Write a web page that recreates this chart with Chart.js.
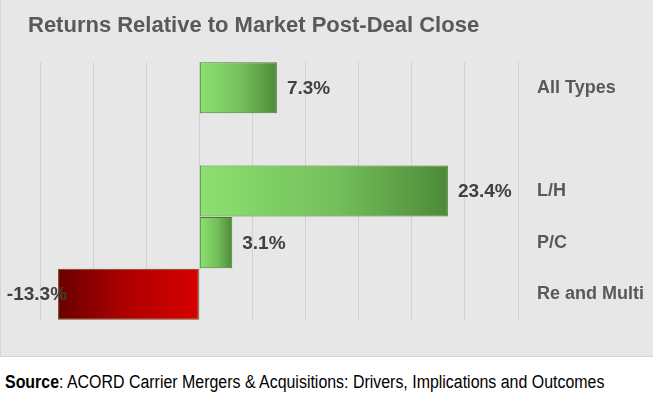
<!DOCTYPE html>
<html>
<head>
<meta charset="utf-8">
<script src="https://cdn.jsdelivr.net/npm/chart.js@4"></script>
<style>
  html, body { margin: 0; padding: 0; background: #fff; }
  #wrap { position: relative; width: 653px; height: 357px; background: #e7e7e7; border-bottom: 1px solid #d4d4d4; border-left: 1px solid #d4d4d4; box-sizing: border-box; }
  #title { position: absolute; left: 27px; top: 12px; font: bold 22px "Liberation Sans", Arial, sans-serif; color: #595959; white-space: nowrap; transform-origin: 0 0; transform: scaleX(1.0); }
  #chart { position: absolute; left: 0; top: 0; }
  #source { position: absolute; left: 5px; top: 372px; font: 18px "Liberation Sans", Arial, sans-serif; color: #000; white-space: nowrap; transform-origin: 0 0; transform: scaleX(0.885); }
</style>
</head>
<body>
<div id="wrap">
  <canvas id="chart" width="652" height="356"></canvas>
  <div id="title">Returns Relative to Market Post-Deal Close</div>
</div>
<div id="source"><b>Source</b>: ACORD Carrier Mergers &amp; Acquisitions: Drivers, Implications and Outcomes</div>
<script>
var categories = ['All Types', '', 'L/H', 'P/C', 'Re and Multi'];
var returns = [7.3, null, 23.4, 3.1, -13.3];
var labels = ['7.3%', '', '23.4%', '3.1%', '-13.3%'];

function barGradient(ctx) {
    var chart = ctx.chart;
    var v = ctx.raw;
    if (v === null || v === undefined || !chart.chartArea) return '#888';
    var xs = chart.scales.x;
    var x0 = xs.getPixelForValue(0), x1 = xs.getPixelForValue(v);
    var g = chart.ctx.createLinearGradient(Math.min(x0, x1), 0, Math.max(x0, x1), 0);
    if (v >= 0) {
        g.addColorStop(0, '#8ce170');
        g.addColorStop(0.55, '#74bf5b');
        g.addColorStop(1, '#4d8a38');
    } else {
        g.addColorStop(0, '#6a0000');
        g.addColorStop(0.5, '#b00000');
        g.addColorStop(1, '#d60000');
    }
    return g;
}

// value labels next to bar ends
var valueLabels = {
    id: 'valueLabels',
    afterDatasetsDraw: function(chart) {
        var c = chart.ctx;
        var meta = chart.getDatasetMeta(0);
        c.save();
        c.font = 'bold 19px "Liberation Sans", Arial, sans-serif';
        c.fillStyle = '#404040';
        c.textBaseline = 'middle';
        meta.data.forEach(function(bar, i) {
            if (returns[i] === null) return;
            if (returns[i] >= 0) {
                c.textAlign = 'left';
                c.fillText(labels[i], bar.x + 10, bar.y + 1);
            } else {
                c.textAlign = 'right';
                c.fillText(labels[i], bar.x + 9, bar.y + 1);
            }
        });
        c.restore();
    }
};

new Chart(document.getElementById('chart'), {
    type: 'bar',
    data: {
        labels: categories,
        datasets: [{
            data: returns,
            backgroundColor: barGradient,
            borderColor: function(ctx) { return ctx.raw < 0 ? '#6b4a1c' : '#4a7f33'; },
            borderWidth: 1,
            borderSkipped: false,
            barPercentage: 1,
            categoryPercentage: 0.99
        }]
    },
    options: {
        indexAxis: 'y',
        responsive: false,
        animation: false,
        layout: { padding: { left: 39, top: 62, bottom: 36, right: 0 } },
        plugins: {
            legend: { display: false },
            tooltip: { enabled: false },
            title: { display: false }
        },
        scales: {
            x: {
                min: -15, max: 30,
                ticks: { display: false, stepSize: 5 },
                grid: { color: '#d2d2d2', lineWidth: 1, drawTicks: false },
                border: { display: false }
            },
            y: {
                position: 'right',
                grid: { display: false, drawTicks: false },
                border: { display: false },
                ticks: {
                    color: '#595959',
                    padding: 19,
                    font: { family: '"Liberation Sans", Arial, sans-serif', size: 18, weight: 'bold' }
                },
                afterFit: function(scale) { scale.width = 135; }
            }
        }
    },
    plugins: [valueLabels]
});
</script>
</body>
</html>
